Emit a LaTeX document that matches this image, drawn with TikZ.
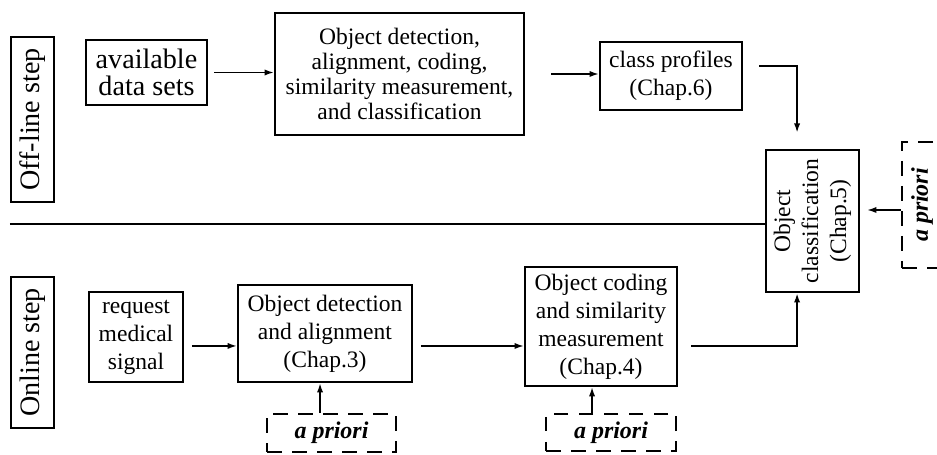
\documentclass[tikz,border=0pt]{standalone}
\usepackage{fontspec}
\setmainfont{Liberation Serif}
\usepackage{graphicx}
\usetikzlibrary{arrows.meta}

\tikzset{
	box/.style={draw, line width=1pt, inner sep=0pt, align=center, font=\fontsize{11.3}{13.4}\selectfont},
	stepbox/.style={box, font=\fontsize{13.5}{13}\selectfont},
	priori/.style={draw, dash pattern=on 7pt off 5pt, line width=0.9pt, inner sep=0pt, font=\fontsize{11.5}{13}\selectfont\bfseries\itshape},
	flow/.style={line width=0.8pt, -{Latex[length=4.5pt,width=3pt]}}
}

\begin{document}
\begin{tikzpicture}[x=0.48pt,y=-0.48pt]
	
	\useasboundingbox (0,0) rectangle (937,455);
	
	% off-line step
	\node [stepbox, minimum width=20.6pt, minimum height=79.2pt] (offline) at (32.5,119.5) {\rotatebox{90}{Off-line step}};
	\node [stepbox, minimum width=58.1pt, minimum height=31.2pt] (sets) at (146.5,72.5) {available\\data sets};
	\node [box, font=\fontsize{11.3}{12.1}\selectfont, minimum width=119.5pt, minimum height=58.6pt] (training) at (399.5,74) {Object detection,\\alignment, coding,\\similarity measurement,\\and classification};
	\node [box, minimum width=68.2pt, minimum height=32.6pt] (profiles) at (671,76) {class profiles\\(Chap.6)};
	
	\node [box, minimum width=44.6pt, minimum height=68.2pt] (classif) at (812.5,221) {\rotatebox{90}{\begin{tabular}{@{}c@{}}Object\\classification\\(Chap.5)\end{tabular}}};
	\node [priori, minimum width=19.2pt, minimum height=60.5pt] (prioriC) at (922,205) {\rotatebox{90}{a priori}};
	
	% online step
	\node [stepbox, minimum width=20.6pt, minimum height=72.5pt] (online) at (32.5,352.5) {\rotatebox{90}{Online step}};
	\node [box, minimum width=45.1pt, minimum height=43.2pt] (request) at (136,337) {request\\medical\\signal};
	\node [box, minimum width=83.5pt, minimum height=46.6pt] (detect) at (325,333.5) {Object detection\\and alignment\\(Chap.3)};
	\node [priori, minimum width=61.9pt, minimum height=18.2pt] (prioriD) at (331.5,433) {a priori};
	\node [box, minimum width=73pt, minimum height=57.1pt] (coding) at (601,326.5) {Object coding\\and similarity\\measurement\\(Chap.4)};
	\node [priori, minimum width=62.4pt, minimum height=17.8pt] (prioriS) at (611,432.5) {a priori};
	
	\coordinate (left) at (10,224);
	\draw [line width=1pt] (left) -- (left -| classif.west);
	
	\draw [flow, shorten <=2.9pt] (sets.east) -- (sets.east -| training.west);
	\draw [flow, shorten <=12.5pt] (training.east) -- (training.east -| profiles.west);
	\draw [flow, line width=1pt] ([shift={(7.7pt,4.8pt)}]profiles.east) -| ([shift={(-7.4pt,7.7pt)}]classif.north);
	\draw [flow, shorten >=3.4pt] ([yshift=-2.4pt]prioriC.west) -- ([yshift=-2.4pt]prioriC.west -| classif.east);
	
	\draw [flow, shorten <=3.8pt] ([yshift=-4.3pt]request.east) -- ([yshift=-4.3pt]request.east -| detect.west);
	\draw [flow, shorten <=3.8pt] ([yshift=-6pt]detect.east) -- ([yshift=-6pt]detect.east -| coding.west);
	\draw [flow, line width=1pt] ([shift={(6.2pt,-9.4pt)}]coding.east) -| ([xshift=-7.4pt]classif.south);
	\draw [flow] ([xshift=-5.5pt]prioriD.north) -- ([xshift=-5.5pt]prioriD.north |- detect.south);
	\draw [flow] ([xshift=-9.1pt]prioriS.north) -- ([xshift=-9.1pt]prioriS.north |- coding.south);
	
\end{tikzpicture}
\end{document}
